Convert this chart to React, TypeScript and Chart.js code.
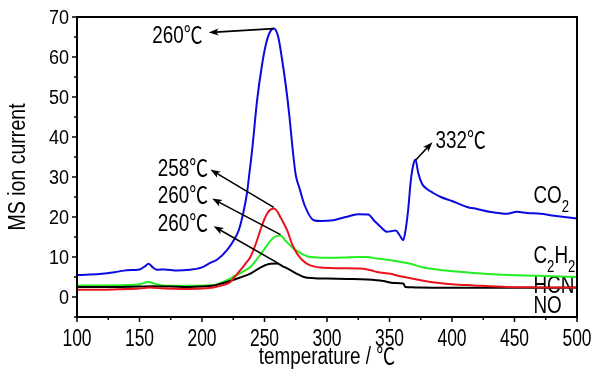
import React, { useEffect, useRef } from "react";
import { Chart, registerables } from "chart.js";
Chart.register(...registerables);

// ---- data ----
const co2T = [100, 110, 120, 130, 140, 150, 154, 157.3, 161, 164, 170, 180, 190, 200, 207, 212, 220, 225.4, 229.4, 233, 236, 238.2, 240.1, 244.1, 248, 251, 254, 257.4, 261, 264, 267, 270, 272.5, 275, 278, 282, 289.4, 295, 305, 315, 325, 333, 338, 343, 348, 352, 355, 358, 361, 363, 365, 367, 369, 370.8, 373, 376, 380, 385, 391, 400, 412, 420, 431, 444, 452, 460, 471, 480, 490, 500];
const co2V = [5.5, 5.6, 5.8, 6.2, 6.7, 6.9, 7.6, 8.3, 7.3, 6.8, 6.9, 6.6, 6.8, 7.4, 8.6, 9.3, 11.7, 14.2, 16.7, 21, 26, 31.7, 36.7, 49.2, 58, 63, 66, 67.1, 65, 59.5, 53, 45, 37, 30.5, 27.2, 23, 19.2, 19, 19.2, 20, 20.7, 20.6, 19, 17.5, 16.3, 16.5, 16.6, 15.5, 14.2, 17, 22, 29, 33, 34.3, 31, 28.3, 27, 26, 25, 24, 22.5, 22, 21.25, 20.8, 21.3, 21, 20.8, 20.4, 20, 19.6];

const c2h2T = [100, 120, 140, 150, 157.3, 163, 169.3, 190, 210, 215, 220, 226, 232, 238.7, 244, 249.4, 254, 258, 262.8, 267, 273.4, 280, 286.7, 300, 313.4, 325, 332.1, 340, 350.8, 360, 366.8, 377.5, 395, 417.4, 437, 457.5, 480, 500];
const c2h2V = [2.9, 2.9, 3.0, 3.2, 3.75, 3.2, 2.9, 2.8, 3.0, 3.5, 4.2, 5.2, 6.2, 7.5, 9.5, 11.7, 13.8, 15, 15.4, 14, 12.1, 10.8, 10, 9.8, 9.85, 10, 10, 9.6, 9.2, 8.7, 8.3, 7.35, 6.6, 6, 5.6, 5.4, 5.2, 5];

const hcnT = [100, 120, 140, 150, 158, 170, 185, 200, 209, 216, 222.7, 226, 230.7, 234.7, 238.7, 242.7, 246.7, 250, 253, 257.4, 260, 263, 268.1, 272, 276.1, 280, 284.1, 290, 294.8, 310, 326.8, 335, 340, 350.8, 356, 366.8, 375, 382.8, 400, 417.4, 444, 470, 500];
const hcnV = [1.8, 1.8, 2.0, 2.1, 2.35, 2.1, 2.0, 2.1, 2.35, 2.9, 3.75, 5, 6.7, 8.3, 10, 13, 16.7, 19.5, 21.3, 22.1, 21.5, 19.8, 16.7, 13.3, 10.8, 9.3, 8.3, 7.6, 7.35, 7.2, 7.1, 6.7, 6.25, 5.8, 5.4, 4.7, 4.2, 3.75, 3.2, 2.9, 2.5, 2.4, 2.35];

const noT = [100, 130, 150, 160, 175, 190, 200, 210, 220, 230, 238.7, 247, 254.7, 260.1, 265, 270.7, 276, 281.4, 290, 300.1, 316, 332.1, 345, 353.4, 361, 362.8, 368, 373.5, 400, 450, 500];
const noV = [2.5, 2.5, 2.6, 2.7, 2.6, 2.5, 2.6, 2.9, 3.75, 4.8, 5.85, 7.4, 8.3, 8.35, 7.6, 6.7, 5.8, 5.0, 4.7, 4.6, 4.5, 4.35, 4.0, 3.5, 3.35, 2.5, 2.45, 2.35, 2.3, 2.3, 2.35];

const xTicks = [100, 150, 200, 250, 300, 350, 400, 450, 500];
const yTicks = [0, 10, 20, 30, 40, 50, 60, 70];

const xTitle = "temperature / ℃";
const yTitle = "MS ion current";

// series name labels: parts [text, isSubscript], anchor in data coords (left x, baseline y)
const seriesLabels = [
  { parts: [["CO", 0], ["2", 1]], at: [465.2, 23.4] },
  { parts: [["C", 0], ["2", 1], ["H", 0], ["2", 1]], at: [465.2, 8.4] },
  { parts: [["HCN", 0]], at: [465.2, 0.9] },
  { parts: [["NO", 0]], at: [465.2, -4.1] },
];

// peak annotations (data coords)
const peakNotes = [
  { label: "260℃", from: [257.4, 67.1], tip: [205.3, 66.1], text: [200.4, 65.4], align: "right" },
  { label: "258℃", from: [257.4, 22.4], tip: [206.7, 31.85], text: [204.8, 32.3], align: "right" },
  { label: "260℃", from: [262.8, 15.6], tip: [208.1, 24.6], text: [204.8, 25.4], align: "right" },
  { label: "260℃", from: [261.1, 8.4], tip: [209.3, 17.7], text: [204.8, 18.6], align: "right" },
  { label: "332℃", from: [370.8, 34.2], tip: [384.4, 38.7], text: [386.8, 39.2], align: "left" },
];

const FAM = '"Liberation Sans", Arial, "Noto Sans CJK SC", sans-serif';

function txt(ctx: CanvasRenderingContext2D, s: string, x: number, y: number, size: number, sx: number, align: CanvasTextAlign = "left", rot = 0) {
  ctx.save();
  ctx.translate(x, y);
  if (rot) ctx.rotate(rot);
  ctx.scale(sx, 1);
  ctx.font = `${size}px ${FAM}`;
  ctx.textAlign = align;
  ctx.textBaseline = "alphabetic";
  ctx.fillStyle = "#000";
  ctx.fillText(s, 0, 0);
  ctx.restore();
}

function arrow(ctx: CanvasRenderingContext2D, x1: number, y1: number, x2: number, y2: number) {
  const a = Math.atan2(y2 - y1, x2 - x1);
  const L = 10, W = 3.6;
  const c = Math.cos(a), s = Math.sin(a);
  ctx.save();
  ctx.strokeStyle = "#000";
  ctx.fillStyle = "#000";
  ctx.lineWidth = 1.6;
  ctx.beginPath();
  ctx.moveTo(x1, y1);
  ctx.lineTo(x2 - c * L * 0.7, y2 - s * L * 0.7);
  ctx.stroke();
  ctx.beginPath();
  ctx.moveTo(x2, y2);
  ctx.lineTo(x2 - c * L - s * W, y2 - s * L + c * W);
  ctx.lineTo(x2 - c * L * 0.75, y2 - s * L * 0.75);
  ctx.lineTo(x2 - c * L + s * W, y2 - s * L - c * W);
  ctx.closePath();
  ctx.fill();
  ctx.restore();
}

const decor = {
  id: "decor",
  beforeDatasetsDraw(chart: any) {
    const ctx = chart.ctx as CanvasRenderingContext2D;
    const xs = chart.scales.x, ys = chart.scales.y;
    for (const lab of seriesLabels) {
      let x = xs.getPixelForValue(lab.at[0]);
      const y = ys.getPixelForValue(lab.at[1]);
      for (const [t, sub] of lab.parts as any) {
        const size = sub ? 16 : 23;
        const sx = 0.82;
        ctx.save();
        ctx.font = `${size}px ${FAM}`;
        const w = ctx.measureText(t).width * sx;
        ctx.restore();
        txt(ctx, t, x, sub ? y + 9 : y, size, sx, "left");
        x += w;
      }
    }
  },
  afterDatasetsDraw(chart: any) {
    const ctx = chart.ctx as CanvasRenderingContext2D;
    const { left, right, top, bottom } = chart.chartArea;
    const xs = chart.scales.x, ys = chart.scales.y;
    ctx.save();
    ctx.strokeStyle = "#000";
    ctx.lineWidth = 2;
    ctx.strokeRect(left, top, right - left, bottom - top);
    ctx.lineWidth = 1.5;
    // x ticks
    for (let i = 0; i < xTicks.length; i++) {
      const px = xs.getPixelForValue(xTicks[i]);
      ctx.beginPath();
      ctx.moveTo(px, bottom);
      ctx.lineTo(px, bottom + 5);
      ctx.stroke();
      txt(ctx, String(xTicks[i]), px, bottom + 29, 23, 0.76, "center");
      if (i < xTicks.length - 1) {
        const mx = xs.getPixelForValue((xTicks[i] + xTicks[i + 1]) / 2);
        ctx.beginPath();
        ctx.moveTo(mx, bottom);
        ctx.lineTo(mx, bottom + 3);
        ctx.stroke();
      }
    }
    // y ticks
    for (let i = 0; i < yTicks.length; i++) {
      const py = ys.getPixelForValue(yTicks[i]);
      ctx.beginPath();
      ctx.moveTo(left, py);
      ctx.lineTo(left - 5, py);
      ctx.stroke();
      txt(ctx, String(yTicks[i]), left - 8, py + 7, 20, 0.9, "right");
      const my = ys.getPixelForValue(yTicks[i] - 5);
      ctx.beginPath();
      ctx.moveTo(left, my);
      ctx.lineTo(left - 3, my);
      ctx.stroke();
    }
    ctx.restore();
    // titles
    txt(ctx, yTitle, 25, (top + bottom) / 2, 23, 0.85, "center", -Math.PI / 2);
    txt(ctx, xTitle, (left + right) / 2, 364, 23, 0.82, "center");
    // annotations
    for (const n of peakNotes) {
      const x1 = xs.getPixelForValue(n.from[0]), y1 = ys.getPixelForValue(n.from[1]);
      const x2 = xs.getPixelForValue(n.tip[0]), y2 = ys.getPixelForValue(n.tip[1]);
      arrow(ctx, x1, y1, x2, y2);
      const tx = xs.getPixelForValue(n.text[0]), ty = ys.getPixelForValue(n.text[1]);
      txt(ctx, n.label, tx, ty + 8, 23, 0.82, n.align as CanvasTextAlign);
    }
  },
};

function mk(t: number[], v: number[]) {
  return t.map((x, i) => ({ x, y: v[i] }));
}

export default function App() {
  const ref = useRef<HTMLCanvasElement>(null);
  useEffect(() => {
    if (!ref.current) return;
    const ds = (label: string, t: number[], v: number[], color: string) => ({
      label,
      data: mk(t, v),
      borderColor: color,
      backgroundColor: color,
      borderWidth: 2,
      pointRadius: 0,
      fill: false,
      cubicInterpolationMode: "monotone" as const,
    });
    const chart = new Chart(ref.current, {
      type: "line",
      data: {
        datasets: [
          ds("HCN", hcnT, hcnV, "#e8141c"),
          ds("NO", noT, noV, "#000000"),
          ds("C2H2", c2h2T, c2h2V, "#22ee22"),
          ds("CO2", co2T, co2V, "#0a0ae0"),
        ],
      },
      options: {
        animation: false,
        responsive: false,
        events: [],
        layout: { padding: { left: 77, top: 17, right: 28, bottom: 57 } },
        scales: {
          x: { type: "linear", min: 100, max: 500, display: false },
          y: { type: "linear", min: -5, max: 70, display: false },
        },
        plugins: { legend: { display: false }, tooltip: { enabled: false } },
      },
      plugins: [decor],
    });
    return () => chart.destroy();
  }, []);
  return (
    <div style={{ position: "absolute", left: 0, top: 0, width: 605, height: 374, background: "#fff" }}>
      <canvas ref={ref} width={605} height={374} style={{ display: "block" }} />
    </div>
  );
}
